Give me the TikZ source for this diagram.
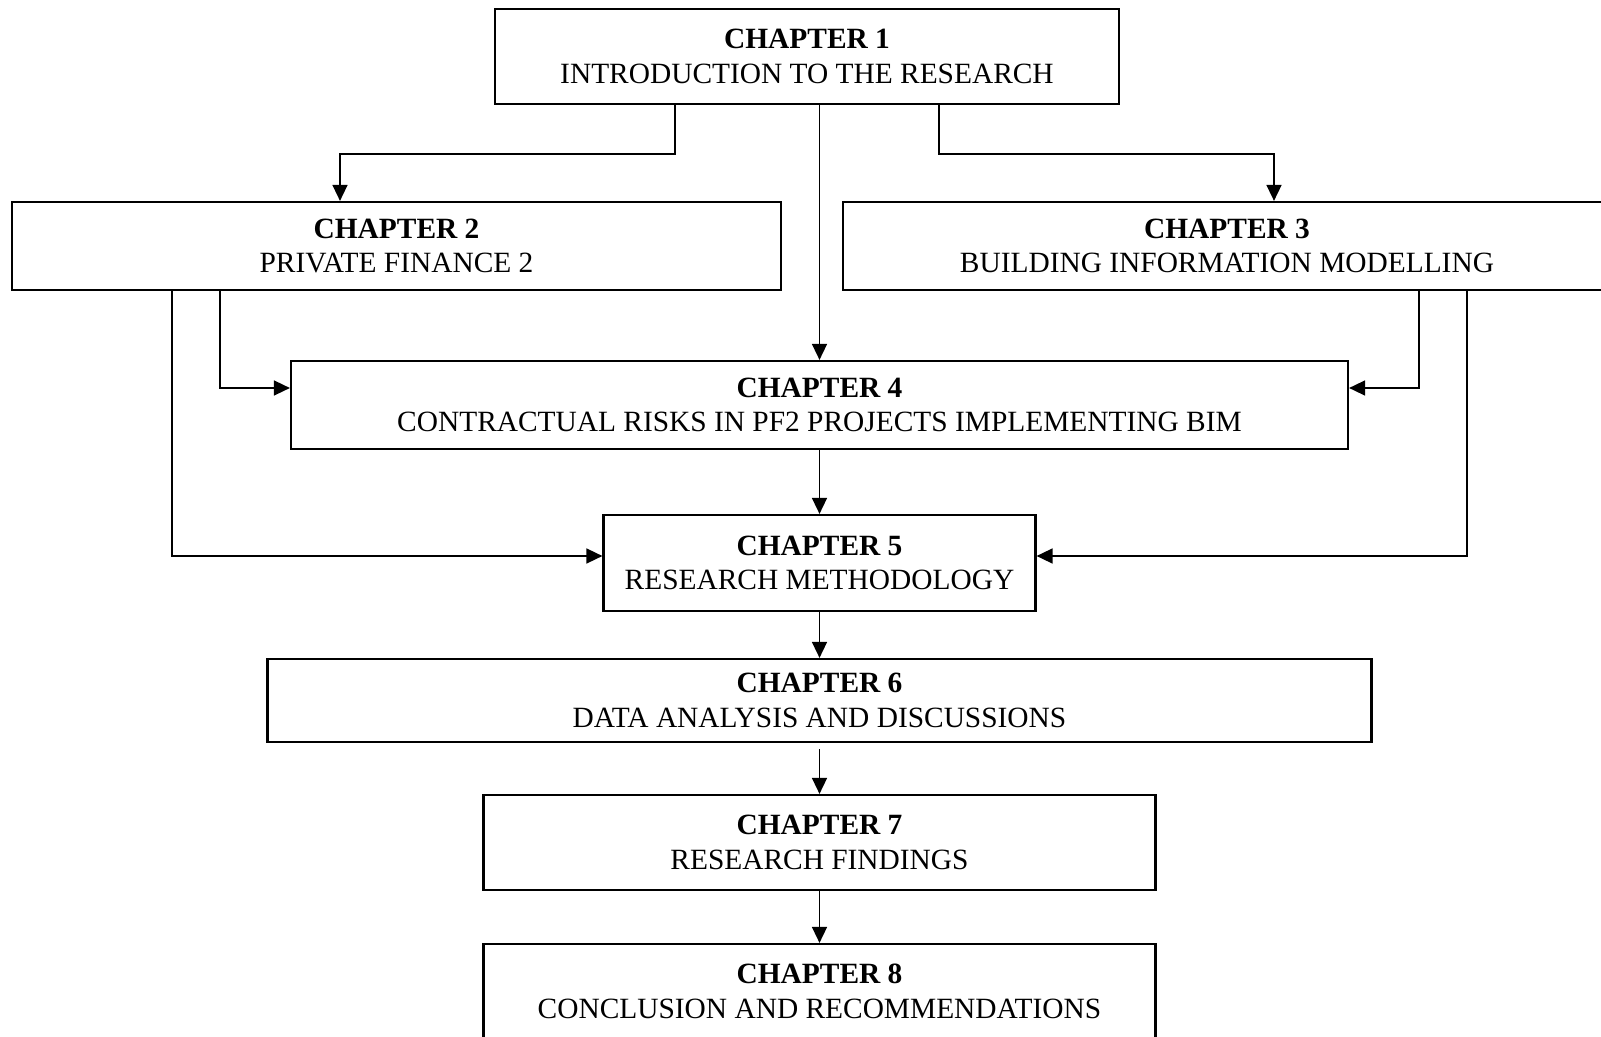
\documentclass[tikz,border=0pt]{standalone}
\usepackage{fontspec}
\setmainfont{Liberation Serif}
\usetikzlibrary{arrows.meta}

\begin{document}
\begin{tikzpicture}[x=0.5pt, y=-0.5pt,
    every node/.style={font=\fontsize{14.7}{17.3}\selectfont},
    chap/.style={draw, line width=1.1pt, inner sep=0pt, align=center},
    link/.style={-{Triangle[length=8pt, width=7.5pt]}, line width=0.8pt}]
        \useasboundingbox (0,0) rectangle (1601,1037);
        \node[chap, minimum width=312pt, minimum height=47.5pt] (ch1) at (807,56.5) {\textbf{CHAPTER 1}\\INTRODUCTION TO THE RESEARCH};
        \node[chap, minimum width=384.5pt, minimum height=44pt] (ch2) at (396.5,246) {\textbf{CHAPTER 2}\\PRIVATE FINANCE 2};
        \node[chap, minimum width=384pt, minimum height=44pt] (ch3) at (1227,246) {\textbf{CHAPTER 3}\\BUILDING INFORMATION MODELLING};
        \node[chap, minimum width=528.5pt, minimum height=44pt] (ch4) at (819.5,405) {\textbf{CHAPTER 4}\\CONTRACTUAL RISKS IN PF2 PROJECTS IMPLEMENTING BIM};
        \node[chap, minimum width=216pt, minimum height=48pt] (ch5) at (819.5,563) {\textbf{CHAPTER 5}\\RESEARCH METHODOLOGY};
        \node[chap, minimum width=552pt, minimum height=41.5pt] (ch6) at (819.5,700.5) {\textbf{CHAPTER 6}\\DATA ANALYSIS AND DISCUSSIONS};
        \node[chap, minimum width=336pt, minimum height=47.5pt] (ch7) at (819.5,842.5) {\textbf{CHAPTER 7}\\RESEARCH FINDINGS};
        \node[chap, minimum width=336pt, minimum height=47.5pt] (ch8) at (819.5,991.5) {\textbf{CHAPTER 8}\\CONCLUSION AND RECOMMENDATIONS};
        % bend points
        \coordinate (out12) at (675,154);
        \coordinate (in12) at (340,154);
        \coordinate (out13) at (939,154);
        \coordinate (in13) at (1274,154);
        \coordinate (b24) at (220,388);
        \coordinate (b34) at (1419,388);
        \coordinate (b25) at (172,556);
        \coordinate (b35) at (1467,556);
        \draw[link] (ch1.south -| out12) -- (out12) -- (in12) -- (in12 |- ch2.north);
        \draw[link] (ch1.south -| out13) -- (out13) -- (in13) -- (in13 |- ch3.north);
        \draw[link] (ch1.south -| ch4.north) -- (ch4.north);
        \draw[link] (ch2.south -| b24) -- (b24) -- (b24 -| ch4.west);
        \draw[link] (ch3.south -| b34) -- (b34) -- (b34 -| ch4.east);
        \draw[link] (ch2.south -| b25) -- (b25) -- (b25 -| ch5.west);
        \draw[link] (ch3.south -| b35) -- (b35) -- (b35 -| ch5.east);
        \draw[link] (ch4) -- (ch5);
        \draw[link] (ch5) -- (ch6);
        \draw[link, shorten <=3pt] (ch6) -- (ch7);
        \draw[link] (ch7) -- (ch8);
      \end{tikzpicture}
\end{document}
